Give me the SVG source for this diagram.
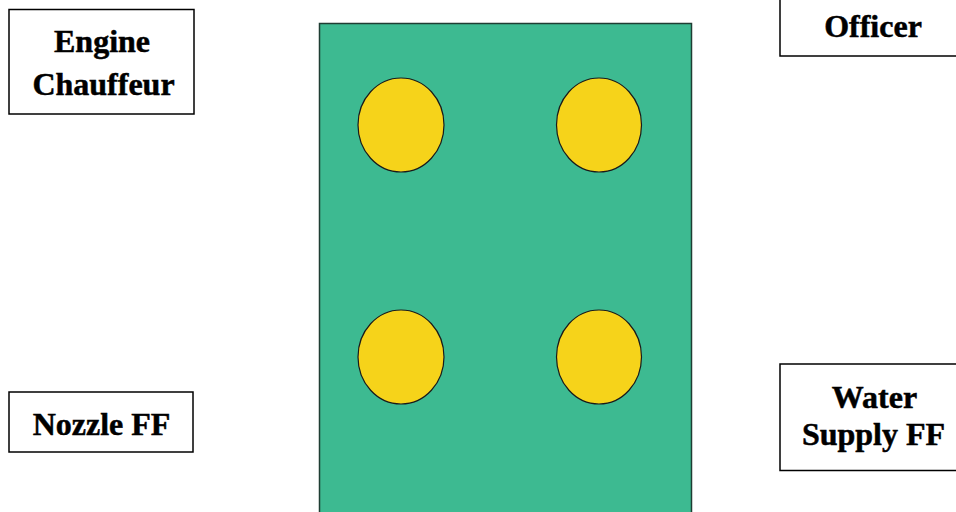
<svg xmlns="http://www.w3.org/2000/svg" width="956" height="512" viewBox="0 0 956 512">
<style>
.box{fill:#ffffff;stroke:#000000;stroke-width:1.5}
.lbl{font-family:"Liberation Serif","Times New Roman",serif;font-weight:bold;font-size:32px;fill:#000;stroke:#000;stroke-width:0.5;text-anchor:middle}
.dot{fill:#f6d31a;stroke:#1a1a1a;stroke-width:1.2}
</style>
<rect width="956" height="512" fill="#ffffff"/>
<g id="apparatus">
<rect x="319.5" y="23.5" width="372" height="495" fill="#3dba91" stroke="#1f3d33" stroke-width="1.5"/>
<ellipse class="dot" cx="401" cy="125" rx="43" ry="47"/>
<ellipse class="dot" cx="599" cy="125" rx="42.5" ry="47"/>
<ellipse class="dot" cx="401" cy="357" rx="43" ry="47"/>
<ellipse class="dot" cx="599" cy="357" rx="42.5" ry="47"/>
</g>
<g id="engine-chauffeur">
<rect class="box" x="9" y="9.5" width="185" height="104.5"/>
<text class="lbl" x="102" y="52">Engine</text>
<text class="lbl" x="103.5" y="95">Chauffeur</text>
</g>
<g id="officer">
<rect class="box" x="780" y="-2" width="190" height="58"/>
<text class="lbl" x="873" y="37">Officer</text>
</g>
<g id="nozzle-ff">
<rect class="box" x="9" y="392" width="184" height="60"/>
<text class="lbl" x="101.5" y="435">Nozzle FF</text>
</g>
<g id="water-supply-ff">
<rect class="box" x="780" y="364" width="190" height="106.5"/>
<text class="lbl" x="874.5" y="408">Water</text>
<text class="lbl" x="873.5" y="445">Supply FF</text>
</g>
<g id="connectors"/>
</svg>
